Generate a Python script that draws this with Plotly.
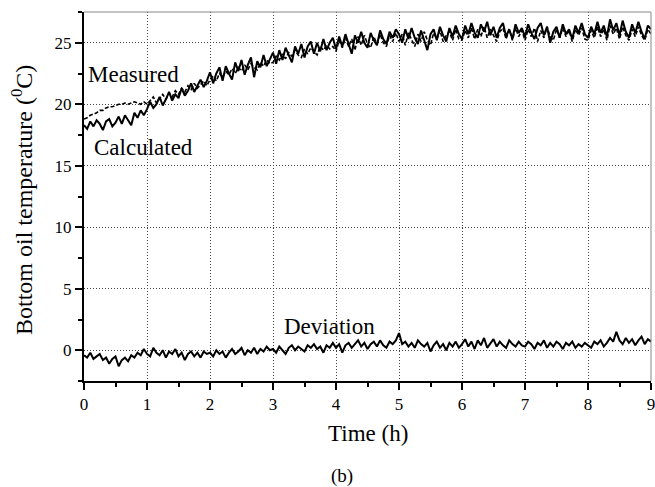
import plotly.graph_objects as go

step_h = 0.05
time_h = [round(i * step_h, 2) for i in range(181)]

calculated = [
    18.3, 18.0, 18.6, 18.2, 18.7, 18.4, 17.9, 18.6, 18.8, 18.2, 18.5, 19.0, 18.4, 19.1, 18.7, 18.3, 19.3, 18.9, 19.5, 19.1,
    19.6, 20.2, 19.7, 20.0, 20.6, 19.9, 20.4, 21.0, 20.3, 20.8, 20.5, 21.3, 20.7, 21.1, 21.7, 21.0, 21.5, 22.0, 21.4, 21.9,
    22.6, 21.7, 22.5, 23.0, 21.9, 23.1, 22.5, 22.0, 23.4, 22.7, 23.6, 22.4, 23.2, 23.8, 22.2, 23.5, 23.0, 24.0, 23.1, 23.7,
    24.2, 23.3, 24.4, 23.6, 24.6, 24.0, 23.4, 24.7, 24.1, 24.9, 23.8, 24.7, 25.1, 24.1, 25.0, 24.3, 25.3, 24.4, 25.0, 25.4,
    24.5, 25.5, 24.7, 25.7, 24.9, 24.1, 25.6, 25.0, 25.9, 25.0, 24.6, 25.8, 25.2, 24.8, 26.0, 25.3, 24.9, 25.9, 25.4, 26.1,
    25.7, 25.0, 26.1, 25.3, 26.2, 25.4, 24.9, 26.0, 25.2, 24.4, 25.7, 26.1, 25.2, 26.3, 25.6, 25.1, 26.2, 25.5, 26.4, 25.7,
    25.3, 26.4, 25.7, 26.6, 25.8, 25.4, 26.5, 25.9, 26.7, 25.6, 26.3, 25.4, 26.2, 26.6, 25.5, 26.1, 25.3, 26.5, 25.8, 26.2,
    25.5, 26.5, 25.8, 25.3, 26.2, 26.6, 25.6, 26.3, 25.0, 25.9, 26.3, 25.4, 26.5, 25.7, 26.1, 25.3, 26.4, 25.8, 26.6, 25.7,
    25.4, 26.3, 25.7, 26.7, 25.8, 26.4, 25.5, 26.9, 26.0, 26.6, 25.6, 26.8, 25.9, 25.4, 26.5, 25.8, 26.7, 25.9, 25.3, 26.4,
    26.1,
]

measured = [
    18.8, 18.9, 19.1, 19.2, 19.3, 19.5, 19.5, 19.7, 19.8, 19.8, 19.9, 20.0, 20.0, 20.1, 20.0, 20.1, 20.2, 20.1, 20.0, 20.2,
    20.0, 20.3, 20.6, 20.1, 20.5, 20.8, 20.4, 20.9, 20.6, 21.1, 20.8, 21.3, 21.0, 21.5, 21.2, 21.7, 21.3, 21.6, 21.9, 21.5,
    22.0, 22.3, 21.9, 22.5, 22.2, 22.7, 22.4, 22.9, 22.5, 23.0, 22.7, 23.2, 22.8, 23.3, 23.0, 22.8, 23.4, 23.1, 23.6, 23.3,
    23.4, 23.9, 23.6, 24.1, 23.7, 24.2, 23.9, 24.4, 24.0, 23.8, 24.5, 24.1, 24.6, 24.3, 24.0, 24.7, 24.4, 24.8, 24.5, 24.7,
    24.3, 25.2, 24.6, 25.4, 24.7, 25.3, 24.4, 25.5, 24.8, 25.6, 24.9, 24.6, 25.5, 24.9, 25.7, 25.0, 24.7, 25.6, 25.1, 25.8,
    25.1, 25.7, 24.8, 25.8, 25.2, 24.7, 25.7, 25.1, 25.9, 25.2, 24.8, 25.8, 25.3, 26.0, 25.1, 25.6, 25.9, 25.2, 26.1, 25.3,
    25.2, 26.0, 25.4, 26.2, 25.3, 26.1, 25.5, 26.3, 25.4, 26.1, 25.6, 25.1, 25.9, 26.2, 25.3, 26.1, 25.2, 26.2, 25.5, 26.0,
    25.2, 26.1, 25.5, 26.2, 25.1, 26.0, 25.4, 26.3, 25.5, 25.2, 26.1, 25.4, 26.2, 25.5, 26.0, 25.1, 26.1, 25.6, 26.2, 25.3,
    25.2, 26.0, 25.4, 26.3, 25.5, 26.1, 25.2, 26.4, 25.7, 26.2, 25.3, 26.3, 25.6, 25.2, 26.1, 25.5, 26.3, 25.6, 25.2, 26.1,
    25.7,
]

deviation = [
    -0.4, -0.6, -0.2, -0.7, -0.5, -0.3, -0.8, -0.6, -1.1, -0.7, -0.5, -1.3, -0.8, -0.6, -0.9, -0.4, -0.6, -0.2, -0.4, 0.1,
    -0.3, -0.5, 0.2, -0.2, -0.4, 0.0, -0.6, -0.1, -0.3, 0.1, -0.5, -0.2, -0.8, -0.3, -0.1, -0.5, -0.2, -0.6, -0.1, -0.3,
    -0.2, -0.5, 0.0, -0.3, -0.1, -0.6, -0.2, 0.1, -0.3, -0.1, 0.2, -0.4, 0.0, -0.2, 0.2, -0.3, 0.1, -0.1, 0.3, 0.0,
    0.1, -0.2, 0.3, 0.0, -0.3, 0.2, 0.4, 0.0, 0.3, 0.1, -0.1, 0.4, 0.2, 0.5, 0.1, 0.3, -0.2, 0.4, 0.2, 0.6,
    0.2, 0.5, -0.2, 0.4, 0.6, 0.2, 0.5, 0.8, 0.3, 0.6, 0.1, 0.5, 0.7, 0.3, 0.8, 0.4, 0.2, 0.7, 0.5, 0.8,
    1.4, 0.5, 0.7, 0.3, 0.6, 0.2, 0.8, 0.5, 0.3, 0.6, -0.1, 0.4, 0.7, 0.2, 0.5, 0.0, 0.6, 0.3, 0.7, 0.2,
    0.5, 0.9, 0.3, 0.7, 0.1, 0.8, 0.4, 1.0, 0.2, 0.6, 0.9, 0.3, 0.7, 0.4, 0.2, 0.8, 0.5, 0.3, 0.7, 0.4,
    0.3, 0.7, 0.5, 0.1, 0.6, 0.4, 0.8, 0.2, 0.6, 0.3, 0.7, 0.5, 0.1, 0.6, 0.4, 0.7, 0.2, 0.5, 0.3, 0.6,
    0.4, 0.2, 0.7, 0.5, 0.8, 0.3, 0.6, 1.0, 0.7, 1.5, 0.8, 0.5, 1.0, 0.6, 0.9, 0.4, 0.8, 1.1, 0.5, 0.9,
    0.7,
]

x_ticks = [0, 1, 2, 3, 4, 5, 6, 7, 8, 9]
y_ticks = [0, 5, 10, 15, 20, 25]

FONT = "Liberation Serif"

fig = go.Figure()
fig.add_trace(go.Scatter(x=time_h, y=measured, mode="lines", name="Measured",
                         line=dict(color="black", width=1.6, dash="4px,2px")))
fig.add_trace(go.Scatter(x=time_h, y=calculated, mode="lines", name="Calculated",
                         line=dict(color="black", width=2)))
fig.add_trace(go.Scatter(x=time_h, y=deviation, mode="lines", name="Deviation",
                         line=dict(color="black", width=2)))

axis_common = dict(
    showline=True, linecolor="black", linewidth=2,
    ticks="outside", ticklen=7, tickwidth=1.5, tickcolor="black",
    showgrid=True, gridcolor="#444444", griddash="1px,2px", gridwidth=1,
    zeroline=False, automargin=False, ticklabeloverflow="allow",
    tickfont=dict(family=FONT, size=17, color="black"),
)

fig.update_xaxes(range=[0, 9], tickvals=x_ticks, ticktext=[str(v) for v in x_ticks],
                 minor=dict(dtick=0.5, tick0=0, ticklen=4, tickcolor="black", ticks="outside", showgrid=False),
                 **axis_common)
fig.update_yaxes(range=[-2.5, 27.5], tickvals=y_ticks, ticktext=[str(v) for v in y_ticks],
                 minor=dict(dtick=2.5, tick0=0, ticklen=4, tickcolor="black", ticks="outside", showgrid=False),
                 **axis_common)

label_font = dict(family=FONT, size=23, color="black")
annotations = [
    dict(x=0.78, y=22.4, xref="x", yref="y", text="Measured", showarrow=False, font=label_font),
    dict(x=0.95, y=16.45, xref="x", yref="y", text="Calculated", showarrow=False, font=label_font),
    dict(x=3.89, y=1.95, xref="x", yref="y", text="Deviation", showarrow=False, font=label_font),
    dict(x=0.5, y=-0.1436, xref="paper", yref="paper", text="Time (h)", showarrow=False,
         font=dict(family=FONT, size=23, color="black"), yanchor="middle"),
    dict(x=0.455, y=-0.257, xref="paper", yref="paper", text="(b)", showarrow=False,
         font=dict(family=FONT, size=19, color="black"), yanchor="middle"),
    dict(x=-0.1093, y=0.4905, xref="paper", yref="paper", text="Bottom oil temperature (<sup>0</sup>C)",
         showarrow=False, textangle=-90, font=dict(family=FONT, size=24, color="black"),
         xanchor="center", yanchor="middle"),
]

fig.update_layout(
    width=655, height=487,
    margin=dict(l=84, r=4, t=12, b=106),
    paper_bgcolor="white", plot_bgcolor="white",
    font=dict(family=FONT, color="black"),
    showlegend=False,
    annotations=annotations,
    shapes=[
        dict(type="line", xref="paper", yref="paper", x0=0, x1=1, y0=1, y1=1,
             line=dict(color="#888888", width=1)),
        dict(type="line", xref="paper", yref="paper", x0=1, x1=1, y0=0, y1=1,
             line=dict(color="#888888", width=1)),
    ],
)

fig.write_html("out.html")
